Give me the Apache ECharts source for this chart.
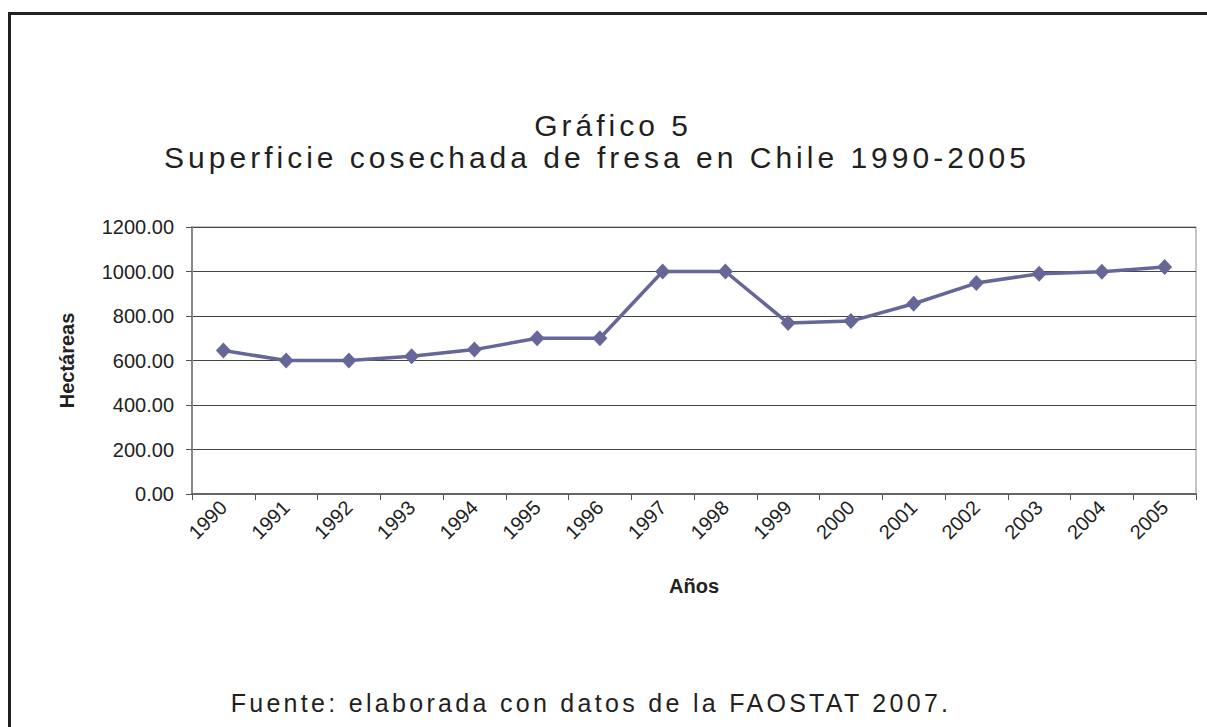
<!DOCTYPE html>
<html>
<head>
<meta charset="utf-8">
<script src="https://cdn.jsdelivr.net/npm/echarts@6/dist/echarts.min.js"></script>
<style>
  html, body { margin: 0; padding: 0; background: #fff; }
  #chart { width: 1207px; height: 727px; }
  #chart text[style*="30px"] { letter-spacing: 4px; }
  #chart text[style*="25px"] { letter-spacing: 3.3px; }
</style>
</head>
<body>
<div id="chart"></div>
<script>
const titleText = 'Gráfico 5';
const subtitleText = 'Superficie cosechada de fresa en Chile 1990-2005';
const footerText = 'Fuente: elaborada con datos de la FAOSTAT 2007.';
const yAxisName = 'Hectáreas';
const xAxisName = 'Años';
const years = ['1990','1991','1992','1993','1994','1995','1996','1997','1998','1999','2000','2001','2002','2003','2004','2005'];
const hectareas = [645, 600, 600, 619, 649, 700, 700, 1000, 1000, 768, 777, 855, 948, 990, 999, 1020];
const yMin = 0, yMax = 1200, yStep = 200;

const chart = echarts.init(document.getElementById('chart'), null, { renderer: 'svg' });
const font = 'Liberation Sans, Arial, sans-serif';
chart.setOption({
  backgroundColor: '#ffffff',
  animation: false,
  graphic: [
    { type: 'line', shape: { x1: 9.5, y1: 13, x2: 9.5, y2: 727 }, style: { stroke: '#231f20', lineWidth: 3 } },
    { type: 'line', shape: { x1: 8, y1: 13.5, x2: 1207, y2: 13.5 }, style: { stroke: '#231f20', lineWidth: 3 } },
    { type: 'text', x: 613, y: 125, style: { text: titleText, font: '30px ' + font, fill: '#231f20', align: 'center', verticalAlign: 'middle' } },
    { type: 'text', x: 597, y: 157, style: { text: subtitleText, font: '30px ' + font, fill: '#231f20', align: 'center', verticalAlign: 'middle' } },
    { type: 'text', x: 591, y: 703, style: { text: footerText, font: '25px ' + font, fill: '#231f20', align: 'center', verticalAlign: 'middle' } }
  ],
  grid: { left: 192, right: 11, top: 227, bottom: 233, show: true, borderColor: '#8c8c8c', borderWidth: 1, containLabel: false },
  xAxis: {
    type: 'category',
    data: years,
    boundaryGap: true,
    name: xAxisName,
    nameLocation: 'middle',
    nameGap: 82,
    nameTextStyle: { fontFamily: font, fontSize: 20, fontWeight: 'bold', color: '#222' },
    axisLine: { lineStyle: { color: '#666', width: 2 } },
    axisTick: { show: true, length: 6, lineStyle: { color: '#555' } },
    axisLabel: { rotate: 45, fontFamily: font, fontSize: 20, color: '#222', margin: 10 },
    splitLine: { show: false }
  },
  yAxis: {
    type: 'value',
    min: yMin, max: yMax, interval: yStep,
    name: yAxisName,
    nameLocation: 'middle',
    nameGap: 115,
    nameRotate: 90,
    nameTextStyle: { fontFamily: font, fontSize: 20, fontWeight: 'bold', color: '#222' },
    axisLine: { show: true, lineStyle: { color: '#888', width: 2 } },
    axisTick: { show: true, length: 6, lineStyle: { color: '#555' } },
    axisLabel: { fontFamily: font, fontSize: 20, color: '#222', margin: 18, formatter: v => v.toFixed(2) },
    splitLine: { show: true, lineStyle: { color: '#444', width: 1 } }
  },
  series: [{
    type: 'line',
    data: hectareas,
    symbol: 'diamond',
    symbolSize: [15, 16],
    lineStyle: { color: '#666699', width: 3.5 },
    itemStyle: { color: '#666699' }
  }]
});
</script>
</body>
</html>
